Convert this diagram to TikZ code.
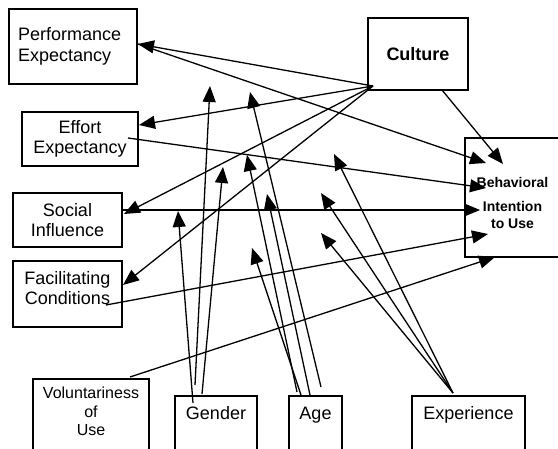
\documentclass[tikz,border=0pt]{standalone}
\usepackage{fontspec}
\setmainfont{Liberation Sans}
\usetikzlibrary{arrows.meta}
\tikzstyle{box} = [rectangle, draw=black, line width=1.6pt, inner sep=0pt, align=center, font=\fontsize{18}{20.5}\selectfont]
\tikzstyle{openbox} = [box, anchor=north, text height=13pt, text depth=80pt, inner ysep=11pt]
\tikzstyle{arrow} = [line width=1.3pt, -{Triangle[length=16pt,width=13pt]}]

\begin{document}
\begin{tikzpicture}[x=1pt, y=1pt, yscale=-1]

\useasboundingbox (0,0) rectangle (558,449);
\clip (0,0) rectangle (558,449);

\node at (73,46.5) (perf) [box, minimum width=128pt, minimum height=75pt, text width=110pt, align=left] {Performance\\Expectancy};
\node at (80,139) (effort) [box, minimum width=116pt, minimum height=54pt] {Effort\\Expectancy};
\node at (67.5,220) (social) [box, minimum width=109pt, minimum height=54pt] {Social\\Influence};
\node at (67.5,294) (facil) [box, minimum width=109pt, minimum height=66pt, text height=22pt, text depth=0pt] {Facilitating\\Conditions};
\node at (418,54) (culture) [box, minimum width=100pt, minimum height=72pt, font=\bfseries\fontsize{18}{20.5}\selectfont] {Culture};
\node at (512.5,197.5) (intent) [box, minimum width=95pt, minimum height=119pt, font=\bfseries\fontsize{14}{17.5}\selectfont, text height=63pt, text depth=0pt] {Behavioral\\[6pt]Intention\\to Use};

\node at (91,378) (volun) [openbox, minimum width=116pt, inner ysep=8pt, text height=49pt, font=\fontsize{16}{18.5}\selectfont] {Voluntariness\\of\\Use};
\node at (216,395) (gender) [openbox, minimum width=82pt] {Gender};
\node at (315.5,395) (age) [openbox, minimum width=53pt] {Age};
\node at (468.5,395) (exper) [openbox, minimum width=113pt] {Experience};

% ports on the boxes
\coordinate (cul) at (373,86);
\coordinate (culbot) at (442,90);
\coordinate (perfport) at (138,44);
\coordinate (effin) at (139,125);
\coordinate (effout) at (128,138);
\coordinate (socin) at (124,214);
\coordinate (socout) at (122,210);
\coordinate (facin) at (123,285);
\coordinate (facout) at (106,305);
\coordinate (volout) at (130,377);
\coordinate (bi1) at (486,163);
\coordinate (bi2) at (503,164);
\coordinate (bi3) at (486,188);
\coordinate (bi4) at (480,210);
\coordinate (bi5) at (488,234);
\coordinate (bi6) at (495,257);

% moderator ends
\coordinate (g1) at (193,403);
\coordinate (g2) at (195,385);
\coordinate (g3) at (202,394);
\coordinate (gA) at (178,211);
\coordinate (gB) at (210,86);
\coordinate (gC) at (223,167);
\coordinate (a1) at (321,387);
\coordinate (a2) at (297,392);
\coordinate (a3) at (310,395);
\coordinate (a4) at (301,395);
\coordinate (aA) at (250,92);
\coordinate (aB) at (247,155);
\coordinate (aC) at (267,194);
\coordinate (aD) at (252,248);
\coordinate (xtop) at (453,393);
\coordinate (xA) at (334,154);
\coordinate (xB) at (321,193);
\coordinate (xC) at (321,233);

\draw[arrow] (cul) -- (perfport);
\draw[arrow] (cul) -- (effin);
\draw[arrow] (cul) -- (socin);
\draw[arrow] (cul) -- (facin);
\draw[arrow] (culbot) -- (bi2);

\draw[arrow] (perfport) -- (bi1);
\draw[arrow] (effout) -- (bi3);
\draw[arrow] (socout) -- (bi4);
\draw[arrow] (facout) -- (bi5);
\draw[arrow] (volout) -- (bi6);

\draw[arrow] (g1) -- (gA);
\draw[arrow] (g2) -- (gB);
\draw[arrow] (g3) -- (gC);
\draw[arrow] (a1) -- (aA);
\draw[arrow] (a2) -- (aB);
\draw[arrow] (a3) -- (aC);
\draw[arrow] (a4) -- (aD);
\draw[arrow] (xtop) -- (xA);
\draw[arrow] (xtop) -- (xB);
\draw[arrow] (xtop) -- (xC);

\end{tikzpicture}
\end{document}
